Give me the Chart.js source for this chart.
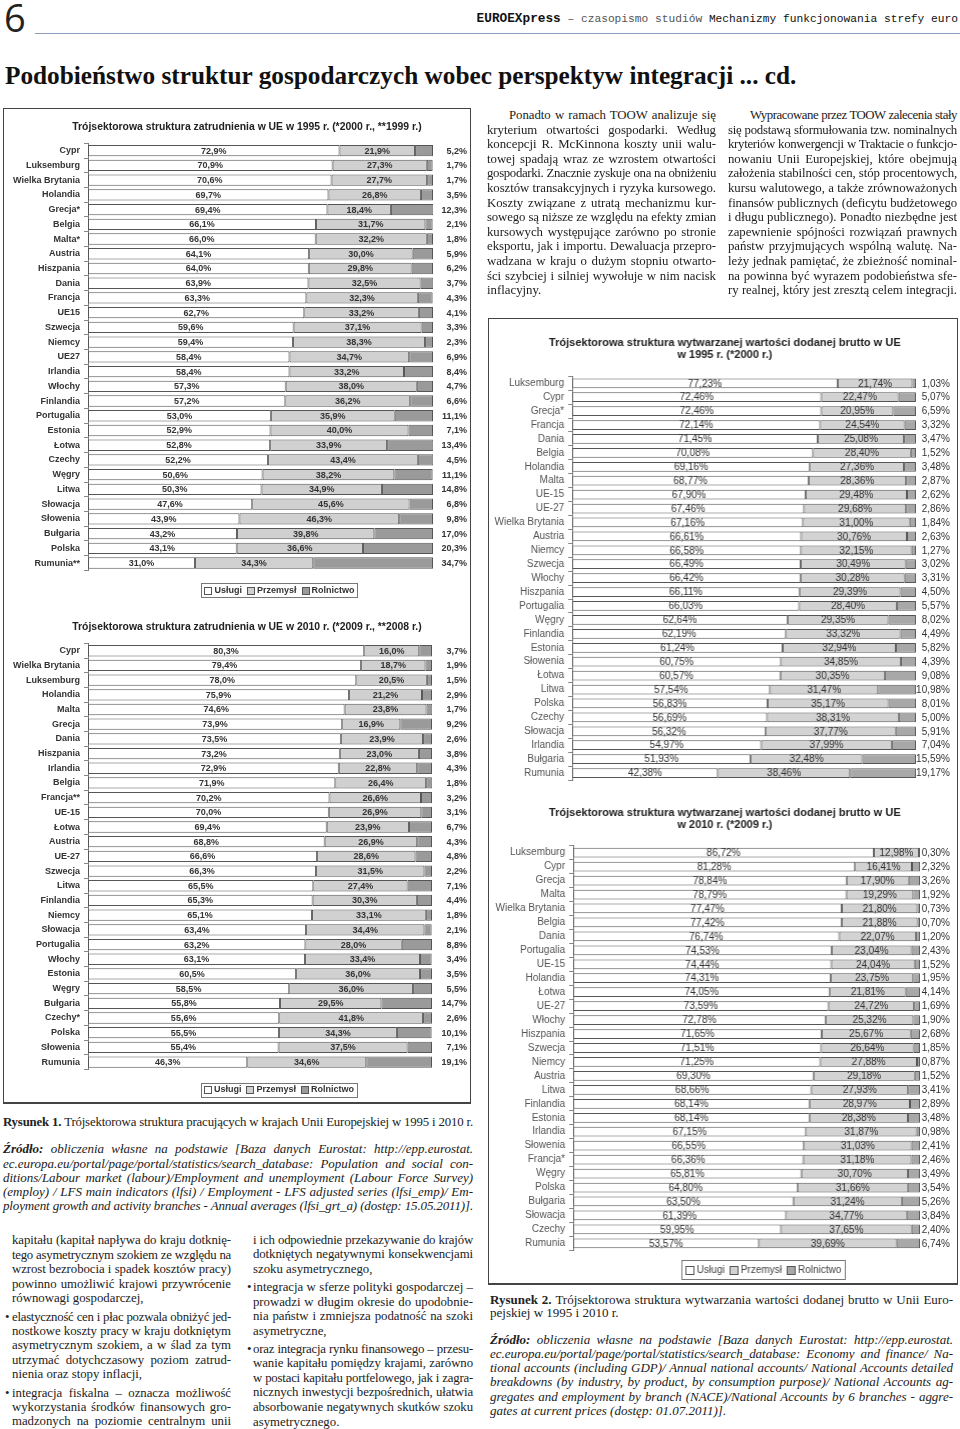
<!DOCTYPE html>
<html lang="pl">
<head>
<meta charset="utf-8">
<title>EUROEXpress 6</title>
<script src="https://cdn.jsdelivr.net/npm/chart.js@4.4.1/dist/chart.umd.min.js"></script>
<style>
body{margin:0;width:960px;height:1429px;position:relative;background:#fff;overflow:hidden;font-family:"Liberation Serif","Times New Roman",serif;color:#222}
.abs{position:absolute}
.ln{position:absolute;line-height:14px;font-size:12.8px;text-align:justify;text-align-last:justify;white-space:normal}
.ln.l{text-align:left;text-align-last:left}
.box{position:absolute;border:1px solid #444;border-bottom-width:2px;box-sizing:border-box}
.cw{position:absolute}
.fit{display:inline-block;white-space:nowrap}
</style>
</head>
<body>
<div class="abs" id="nr" style="left:4px;top:-2px;font:38px/38px 'Open Sans',sans-serif;color:#222">6</div>
<div class="abs" style="right:2px;top:11px;line-height:14px;color:#222;font-family:'Liberation Mono','DejaVu Sans Mono',monospace">
  <span class="fit" id="hdr"><b style="font-size:12.5px;color:#111">EUROEXpress</b><span style="font-size:11px;color:#555"> – czasopismo studiów </span><span style="font-size:11px;color:#111">Mechanizmy funkcjonowania strefy euro</span></span>
</div>
<div class="abs" style="left:35px;top:33px;width:925px;height:0;border-top:1.5px solid #8d9fbd"></div>
<div class="abs" style="left:5px;top:62px;line-height:26px;font-weight:bold;color:#111">
  <span class="fit" id="tyt" style="font-size:22px">Podobieństwo struktur gospodarczych wobec perspektyw integracji ... cd.</span>
</div>

<div class="box" style="left:3px;top:108px;width:468px;height:996px"></div>
<div class="box" style="left:488px;top:318px;width:470px;height:967px"></div>

<div class="cw" style="left:5px;top:110px;height:495px"><canvas id="c1"></canvas></div>
<div class="cw" style="left:5px;top:610px;height:490px"><canvas id="c2"></canvas></div>
<div class="cw" style="left:490px;top:320px;height:470px"><canvas id="c3"></canvas></div>
<div class="cw" style="left:490px;top:790px;height:492px"><canvas id="c4"></canvas></div>

<div id="teksty"></div>

<script>
// ---- dane: zatrudnienie 1995 (*2000, **1999)
const zatr1995Kraje = ["Cypr","Luksemburg","Wielka Brytania","Holandia","Grecja*","Belgia","Malta*","Austria","Hiszpania","Dania","Francja","UE15","Szwecja","Niemcy","UE27","Irlandia","Włochy","Finlandia","Portugalia","Estonia","Łotwa","Czechy","Węgry","Litwa","Słowacja","Słowenia","Bułgaria","Polska","Rumunia**"];
const zatr1995Uslugi = [72.9,70.9,70.6,69.7,69.4,66.1,66.0,64.1,64.0,63.9,63.3,62.7,59.6,59.4,58.4,58.4,57.3,57.2,53.0,52.9,52.8,52.2,50.6,50.3,47.6,43.9,43.2,43.1,31.0];
const zatr1995Przemysl = [21.9,27.3,27.7,26.8,18.4,31.7,32.2,30.0,29.8,32.5,32.3,33.2,37.1,38.3,34.7,33.2,38.0,36.2,35.9,40.0,33.9,43.4,38.2,34.9,45.6,46.3,39.8,36.6,34.3];
const zatr1995Rolnictwo = [5.2,1.7,1.7,3.5,12.3,2.1,1.8,5.9,6.2,3.7,4.3,4.1,3.3,2.3,6.9,8.4,4.7,6.6,11.1,7.1,13.4,4.5,11.1,14.8,6.8,9.8,17.0,20.3,34.7];

// ---- dane: zatrudnienie 2010 (*2009, **2008)
const zatr2010Kraje = ["Cypr","Wielka Brytania","Luksemburg","Holandia","Malta","Grecja","Dania","Hiszpania","Irlandia","Belgia","Francja**","UE-15","Łotwa","Austria","UE-27","Szwecja","Litwa","Finlandia","Niemcy","Słowacja","Portugalia","Włochy","Estonia","Węgry","Bułgaria","Czechy*","Polska","Słowenia","Rumunia"];
const zatr2010Uslugi = [80.3,79.4,78.0,75.9,74.6,73.9,73.5,73.2,72.9,71.9,70.2,70.0,69.4,68.8,66.6,66.3,65.5,65.3,65.1,63.4,63.2,63.1,60.5,58.5,55.8,55.6,55.5,55.4,46.3];
const zatr2010Przemysl = [16.0,18.7,20.5,21.2,23.8,16.9,23.9,23.0,22.8,26.4,26.6,26.9,23.9,26.9,28.6,31.5,27.4,30.3,33.1,34.4,28.0,33.4,36.0,36.0,29.5,41.8,34.3,37.5,34.6];
const zatr2010Rolnictwo = [3.7,1.9,1.5,2.9,1.7,9.2,2.6,3.8,4.3,1.8,3.2,3.1,6.7,4.3,4.8,2.2,7.1,4.4,1.8,2.1,8.8,3.4,3.5,5.5,14.7,2.6,10.1,7.1,19.1];

// ---- dane: wartość dodana brutto 1995 (*2000)
const wdb1995Kraje = ["Luksemburg","Cypr","Grecja*","Francja","Dania","Belgia","Holandia","Malta","UE-15","UE-27","Wielka Brytania","Austria","Niemcy","Szwecja","Włochy","Hiszpania","Portugalia","Węgry","Finlandia","Estonia","Słowenia","Łotwa","Litwa","Polska","Czechy","Słowacja","Irlandia","Bułgaria","Rumunia"];
const wdb1995Uslugi = [77.23,72.46,72.46,72.14,71.45,70.08,69.16,68.77,67.90,67.46,67.16,66.61,66.58,66.49,66.42,66.11,66.03,62.64,62.19,61.24,60.75,60.57,57.54,56.83,56.69,56.32,54.97,51.93,42.38];
const wdb1995Przemysl = [21.74,22.47,20.95,24.54,25.08,28.40,27.36,28.36,29.48,29.68,31.00,30.76,32.15,30.49,30.28,29.39,28.40,29.35,33.32,32.94,34.85,30.35,31.47,35.17,38.31,37.77,37.99,32.48,38.46];
const wdb1995Rolnictwo = [1.03,5.07,6.59,3.32,3.47,1.52,3.48,2.87,2.62,2.86,1.84,2.63,1.27,3.02,3.31,4.50,5.57,8.02,4.49,5.82,4.39,9.08,10.98,8.01,5.00,5.91,7.04,15.59,19.17];

// ---- dane: wartość dodana brutto 2010 (*2009)
const wdb2010Kraje = ["Luksemburg","Cypr","Grecja","Malta","Wielka Brytania","Belgia","Dania","Portugalia","UE-15","Holandia","Łotwa","UE-27","Włochy","Hiszpania","Szwecja","Niemcy","Austria","Litwa","Finlandia","Estonia","Irlandia","Słowenia","Francja*","Węgry","Polska","Bułgaria","Słowacja","Czechy","Rumunia"];
const wdb2010Uslugi = [86.72,81.28,78.84,78.79,77.47,77.42,76.74,74.53,74.44,74.31,74.05,73.59,72.78,71.65,71.51,71.25,69.30,68.66,68.14,68.14,67.15,66.55,66.36,65.81,64.80,63.50,61.39,59.95,53.57];
const wdb2010Przemysl = [12.98,16.41,17.90,19.29,21.80,21.88,22.07,23.04,24.04,23.75,21.81,24.72,25.32,25.67,26.64,27.88,29.18,27.93,28.97,28.38,31.87,31.03,31.18,30.70,31.66,31.24,34.77,37.65,39.69];
const wdb2010Rolnictwo = [0.30,2.32,3.26,1.92,0.73,0.70,1.20,2.43,1.52,1.95,4.14,1.69,1.90,2.68,1.85,0.87,1.52,3.41,2.89,3.48,0.98,2.41,2.46,3.49,3.54,5.26,3.84,2.40,6.74];

const sektory = ["Usługi", "Przemysł", "Rolnictwo"];

const SANS = "'Liberation Sans', Arial, sans-serif";
const pct = (v, d) => v.toFixed(d).replace(".", ",") + "%";

// wartości w słupkach + trzecia seria z prawej strony
const etykiety = {
  id: "etykiety",
  afterDatasetsDraw(chart, args, o) {
    const ctx = chart.ctx;
    ctx.save();
    ctx.font = o.fnt;
    ctx.fillStyle = o.color;
    ctx.textBaseline = "middle";
    chart.data.datasets.forEach((ds, i) => {
      chart.getDatasetMeta(i).data.forEach((bar, j) => {
        const t = pct(ds.data[j], o.dec);
        if (i < 2) { ctx.textAlign = "center"; ctx.fillText(t, (bar.base + bar.x) / 2, bar.y + 0.5); }
        else { ctx.textAlign = "right"; ctx.fillText(t, o.outX, bar.y + 0.5); }
      });
    });
    ctx.restore();
  }
};

// legenda w ramce
const legenda = {
  id: "legenda",
  afterDraw(chart, args, o) {
    if (!o.show) return;
    const ctx = chart.ctx;
    ctx.save();
    ctx.font = o.fnt;
    ctx.textBaseline = "middle";
    const items = chart.data.datasets.map(ds => ({ t: ds.label, c: ds.backgroundColor, w: ctx.measureText(ds.label).width }));
    const total = items.reduce((a, it) => a + o.box + o.tg + it.w, 0) + o.gap * (items.length - 1);
    let x = o.cx - total / 2;
    ctx.fillStyle = "#fff";
    ctx.strokeStyle = "#777";
    ctx.lineWidth = 1;
    const bx = Math.round(x - o.pad) + 0.5, by = Math.round(o.cy - o.h / 2) + 0.5;
    ctx.fillRect(bx, by, total + 2 * o.pad, o.h);
    ctx.strokeRect(bx, by, Math.round(total + 2 * o.pad), o.h);
    items.forEach(it => {
      const y0 = Math.round(o.cy - o.box / 2) + 0.5;
      ctx.fillStyle = it.c;
      ctx.fillRect(Math.round(x) + 0.5, y0, o.box, o.box);
      ctx.strokeStyle = "#555";
      ctx.strokeRect(Math.round(x) + 0.5, y0, o.box, o.box);
      ctx.fillStyle = o.color;
      ctx.textAlign = "left";
      ctx.fillText(it.t, x + o.box + o.tg, o.cy + 0.5);
      x += o.box + o.tg + it.w + o.gap;
    });
    ctx.restore();
  }
};

function wykres(id, kraje, u, p, r, s) {
  const wrap = document.getElementById(id).parentNode;
  const L = parseFloat(wrap.style.left), T = parseFloat(wrap.style.top);
  const H = parseFloat(wrap.style.height);
  // canvas symetryczny wokół środka tytułu
  const W = 2 * (s.titleCx - L);
  wrap.style.width = W + "px";
  const lines = Array.isArray(s.title) ? s.title.length : 1;
  const lh = s.titleLh * s.titleSize;
  const padTop = s.titleCy - lh / 2 - T;
  const padBot = s.plotTop - (T + padTop + lines * lh);
  const mk = (label, data, col) => ({
    label, data, backgroundColor: col, borderColor: "#555", borderWidth: 1, borderSkipped: false,
    barPercentage: s.barPct, categoryPercentage: 1
  });
  return new Chart(document.getElementById(id), {
    type: "bar",
    data: {
      labels: kraje,
      datasets: [mk(sektory[0], u, "#ffffff"), mk(sektory[1], p, s.c2), mk(sektory[2], r, s.c3)]
    },
    options: {
      indexAxis: "y",
      responsive: true,
      maintainAspectRatio: false,
      animation: false,
      layout: { padding: { left: 0, right: 0, top: 0, bottom: T + H - s.plotBottom } },
      scales: {
        x: { stacked: true, display: false, min: 0, max: 100 },
        y: {
          stacked: true,
          afterFit: sc => { sc.width = s.plotL - L; },
          grid: { display: true, drawOnChartArea: false, drawTicks: true, tickLength: 4, color: "#888", offset: true },
          border: { display: true, color: "#777" },
          ticks: { autoSkip: false, padding: 4, color: s.tickColor, font: { family: SANS, size: s.tickSize, weight: s.tickWeight } }
        },
        y2: {
          type: "category", axis: "y", position: "right", display: true,
          afterFit: sc => { sc.width = L + W - s.plotR; },
          grid: { display: false }, border: { display: false }, ticks: { display: false }
        }
      },
      plugins: {
        legend: { display: false },
        tooltip: { enabled: false },
        title: {
          display: true, text: s.title, color: "#222",
          font: { family: SANS, size: s.titleSize, weight: "bold", lineHeight: s.titleLh },
          padding: { top: padTop, bottom: padBot }
        },
        etykiety: { fnt: s.valFont, color: "#333", dec: s.dec, outX: s.outX - L },
        legenda: Object.assign({ show: false }, s.leg ? Object.assign({}, s.leg, { cx: s.leg.cx - L, cy: s.leg.cy - T }) : {})
      }
    },
    plugins: [etykiety, legenda]
  });
}

const stylZatr = {
  titleSize: 10.4, titleLh: 1.2, titleCx: 247, plotL: 88, barPct: 0.77, c2: "#d0d0d0", c3: "#9a9a9a",
  tickColor: "#333", tickSize: 9, tickWeight: "bold", valFont: "bold 9px " + SANS, dec: 1, outX: 467
};
const stylWdb = {
  titleSize: 11, titleLh: 1.1, titleCx: 724.3, barPct: 0.7, c2: "#d3d3d3", c3: "#a8a8a8",
  tickColor: "#555", tickSize: 10, tickWeight: "normal", valFont: "10px " + SANS, dec: 2, outX: 949
};
const legZatr = { show: true, fnt: "bold 9px " + SANS, color: "#333", box: 7, tg: 3, gap: 5, pad: 3, h: 14 };
const legWdb = { show: true, fnt: "10px " + SANS, color: "#444", box: 8, tg: 3, gap: 5, pad: 4, h: 19 };

wykres("c1", zatr1995Kraje, zatr1995Uslugi, zatr1995Przemysl, zatr1995Rolnictwo, Object.assign({}, stylZatr, {
  title: "Trójsektorowa struktura zatrudnienia w UE w 1995 r. (*2000 r., **1999 r.)",
  titleCy: 127, plotTop: 143.3, plotBottom: 570.4, plotR: 433,
  leg: Object.assign({}, legZatr, { cx: 279.5, cy: 590 })
}));
wykres("c2", zatr2010Kraje, zatr2010Uslugi, zatr2010Przemysl, zatr2010Rolnictwo, Object.assign({}, stylZatr, {
  title: "Trójsektorowa struktura zatrudnienia w UE w 2010 r. (*2009 r., **2008 r.)",
  titleCy: 627, plotTop: 643.4, plotBottom: 1069.4, plotR: 432,
  leg: Object.assign({}, legZatr, { cx: 279, cy: 1089.5 })
}));
wykres("c3", wdb1995Kraje, wdb1995Uslugi, wdb1995Przemysl, wdb1995Rolnictwo, Object.assign({}, stylWdb, {
  title: ["Trójsektorowa struktura wytwarzanej wartości dodanej brutto w UE", "w 1995 r. (*2000 r.)"],
  titleCy: 343, plotTop: 376.3, plotBottom: 782, plotL: 572, plotR: 915
}));
wykres("c4", wdb2010Kraje, wdb2010Uslugi, wdb2010Przemysl, wdb2010Rolnictwo, Object.assign({}, stylWdb, {
  title: ["Trójsektorowa struktura wytwarzanej wartości dodanej brutto w UE", "w 2010 r. (*2009 r.)"],
  titleCy: 813, plotTop: 845.7, plotBottom: 1250.3, plotL: 573, plotR: 919,
  leg: Object.assign({}, legWdb, { cx: 763, cy: 1269.5 })
}));

// ---- tekst strony
const kolA = ["Ponadto w ramach TOOW analizuje się","kryterium otwartości gospodarki. Według","koncepcji R. McKinnona koszty unii walu-","towej spadają wraz ze wzrostem otwartości","gospodarki. Znacznie zyskuje ona na obniżeniu","kosztów transakcyjnych i ryzyka kursowego.","Koszty związane z utratą mechanizmu kur-","sowego są niższe ze względu na efekty zmian","kursowych występujące zarówno po stronie","eksportu, jak i importu. Dewaluacja przepro-","wadzana w kraju o dużym stopniu otwarto-","ści szybciej i silniej wywołuje w nim nacisk","inflacyjny."];
const kolB = ["Wypracowane przez TOOW zalecenia stały","się podstawą sformułowania tzw. nominalnych","kryteriów konwergencji w Traktacie o funkcjo-","nowaniu Unii Europejskiej, które obejmują","założenia stabilności cen, stóp procentowych,","kursu walutowego, a także zrównoważonych","finansów publicznych (deficytu budżetowego","i długu publicznego). Ponadto niezbędne jest","zapewnienie spójności rozwiązań prawnych","państw przyjmujących wspólną walutę. Na-","leży jednak pamiętać, że zbieżność nominal-","na powinna być wyrazem podobieństwa sfe-","ry realnej, który jest zresztą celem integracji."];
const dol1 = [
  ["kapitału (kapitał napływa do kraju dotknię-",1240],["tego asymetrycznym szokiem ze względu na",1254.5],["wzrost bezrobocia i spadek kosztów pracy)",1269],["powinno umożliwić krajowi przywrócenie",1283.5],["równowagi gospodarczej,",1298,"l"],
  ["elastyczność cen i płac pozwala obniżyć jed-",1316.7,"b"],["nostkowe koszty pracy w kraju dotkniętym",1330.7],["asymetrycznym szokiem, a w ślad za tym",1345.3],["utrzymać dotychczasowy poziom zatrud-",1360],["nienia oraz stopy inflacji,",1374.3,"l"],
  ["integracja fiskalna – oznacza możliwość",1392.7,"b"],["wykorzystania środków finansowych gro-",1406.7],["madzonych na poziomie centralnym unii",1421.3]
];
const dol2 = [
  ["i ich odpowiednie przekazywanie do krajów",1240],["dotkniętych negatywnymi konsekwencjami",1254.3],["szoku asymetrycznego,",1269,"l"],
  ["integracja w sferze polityki gospodarczej –",1287.3,"b"],["prowadzi w długim okresie do upodobnie-",1301.7],["nia państw i zmniejsza podatność na szoki",1316],["asymetryczne,",1330.7,"l"],
  ["oraz integracja rynku finansowego – przesu-",1349,"b"],["wanie kapitału pomiędzy krajami, zarówno",1363.3],["w postaci kapitału portfelowego, jak i zagra-",1377.7],["nicznych inwestycji bezpośrednich, ułatwia",1392.3],["absorbowanie negatywnych skutków szoku",1406.7],["asymetrycznego.",1421.7,"l"]
];
const zrodlo1 = ["<b>Źródło:</b> obliczenia własne na podstawie [Baza danych Eurostat: http://epp.eurostat.","ec.europa.eu/portal/page/portal/statistics/search_database: Population and social con-","ditions/Labour market (labour)/Employment and unemployment (Labour Force Survey)","(employ) / LFS main indicators (lfsi) / Employment - LFS adjusted series (lfsi_emp)/ Em-","ployment growth and activity branches - Annual averages (lfsi_grt_a) (dostęp: 15.05.2011)]."];
const zrodlo2 = ["<b>Źródło:</b> obliczenia własne na podstawie [Baza danych Eurostat: http://epp.eurostat.","ec.europa.eu/portal/page/portal/statistics/search_database: Economy and finance/ Na-","tional accounts (including GDP)/ Annual national accounts/ National Accounts detailed","breakdowns (by industry, by product, by consumption purpose)/ National Accounts ag-","gregates and employment by branch (NACE)/National Accounts by 6 branches - aggre-","gates at current prices (dostęp: 01.07.2011)]."];

const host = document.getElementById("teksty");
function linia(x, cy, w, html, cls, css) {
  const d = document.createElement("div");
  d.className = "ln" + (cls ? " " + cls : "");
  d.style.left = x + "px";
  d.style.top = (cy - 7) + "px";
  d.style.width = w + "px";
  if (css) d.style.cssText += css;
  d.innerHTML = html;
  host.appendChild(d);
  return d;
}
kolA.forEach((t, i) => linia(i === 0 ? 509 : 487, 115 + i * 14.6, i === 0 ? 207 : 229, t, i === kolA.length - 1 ? "l" : ""));
kolB.forEach((t, i) => linia(i === 0 ? 750 : 728, 115 + i * 14.6, i === 0 ? 207 : 229, t, ""));
[[dol1, 12, 219, 5], [dol2, 253, 220, 247]].forEach(([rows, x, w, bx]) => rows.forEach(([t, y, f]) => {
  linia(x, y, w, t, f === "l" ? "l" : "");
  if (f === "b") linia(bx, y, 8, "•", "l nofit");
}));
linia(3, 1121.7, 470, "<b>Rysunek 1.</b> Trójsektorowa struktura pracujących w krajach Unii Europejskiej w 1995 i 2010 r.", "", "font-size:12.8px");
zrodlo1.forEach((t, i) => linia(3, 1149.3 + i * 14.2, 470, t, "", "font-size:13px;font-style:italic"));
linia(490, 1300, 463, "<b>Rysunek 2.</b> Trójsektorowa struktura wytwarzania wartości dodanej brutto w Unii Euro-", "", "font-size:13px");
linia(490, 1313.3, 463, "pejskiej w 1995 i 2010 r.", "l", "font-size:13px");
zrodlo2.forEach((t, i) => linia(490, 1340 + i * 14.15, 463, t, i === zrodlo2.length - 1 ? "l" : "", "font-size:13px;font-style:italic"));

// dopasowanie linii: rozstrzelenie liter zamiast dużych odstępów między słowami
document.querySelectorAll(".ln:not(.nofit)").forEach(el => {
  const w = parseFloat(el.style.width);
  const probe = document.createElement("span");
  probe.style.whiteSpace = "nowrap";
  probe.innerHTML = el.innerHTML;
  el.innerHTML = "";
  el.appendChild(probe);
  const nat = probe.getBoundingClientRect().width;
  const n = probe.textContent.length;
  let ls = 0;
  if (nat > w - 1) ls = (w - 1 - nat) / n;
  else if (!el.classList.contains("l")) ls = Math.min(0.3, (w - nat) / n * 0.5);
  el.innerHTML = probe.innerHTML;
  el.style.letterSpacing = ls.toFixed(3) + "px";
  let guard = 0;
  while (el.scrollHeight > 20 && guard++ < 40) { ls -= 0.03; el.style.letterSpacing = ls.toFixed(3) + "px"; }
});
function fitWidth(el, target) {
  const w = el.getBoundingClientRect().width;
  el.querySelectorAll("*").forEach(c => { const f = parseFloat(getComputedStyle(c).fontSize); c.style.fontSize = (f * target / w) + "px"; });
  if (!el.children.length) { const f = parseFloat(getComputedStyle(el).fontSize); el.style.fontSize = (f * target / w) + "px"; }
}
fitWidth(document.getElementById("tyt"), 792);
fitWidth(document.getElementById("hdr"), 482);
</script>
</body>
</html>
